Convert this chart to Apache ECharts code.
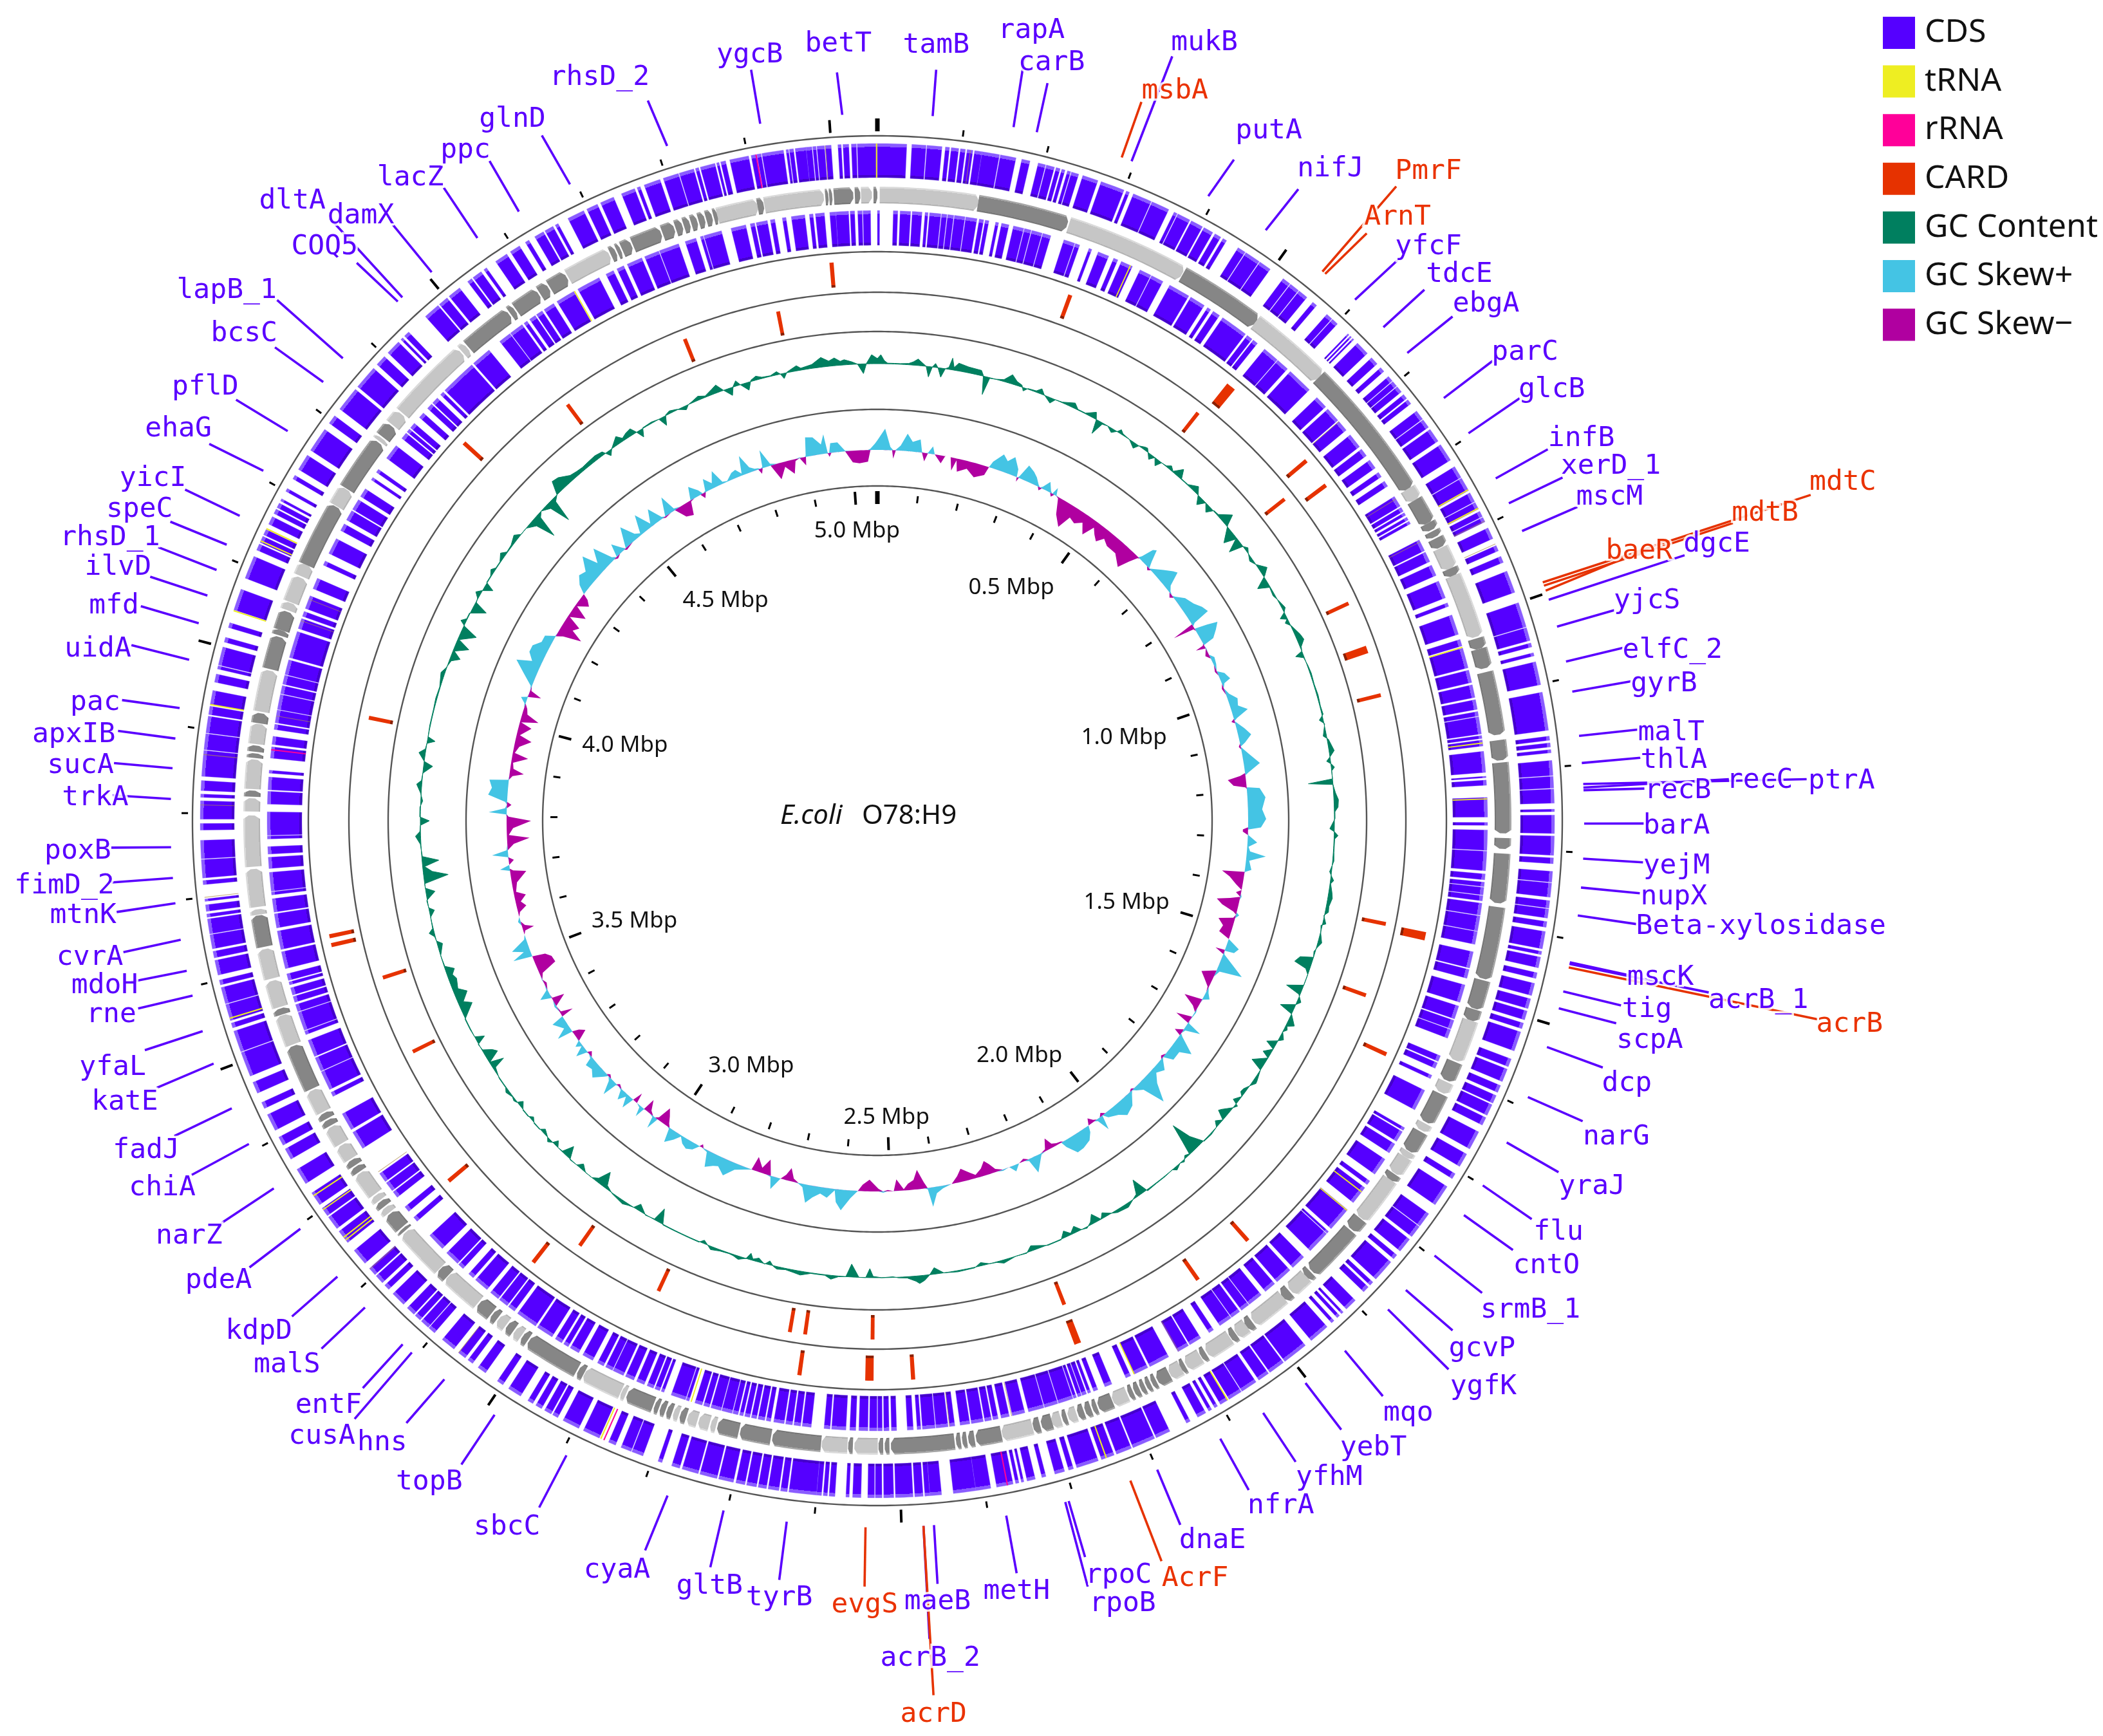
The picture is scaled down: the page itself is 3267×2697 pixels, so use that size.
<!DOCTYPE html>
<html><head><meta charset="utf-8">
<style>html,body{margin:0;padding:0;background:#fff}#c{width:3267px;height:2697px}</style>
<script src="https://cdn.jsdelivr.net/npm/echarts@6/dist/echarts.min.js"></script>
</head><body><div id="c"></div>
<script>
// ---------- values (genome positions in Mbp) ----------
const genomeMbp = 5.055;
const tickMbp = [0,.1,.2,.3,.4,.5,.6,.7,.8,.9,1,1.1,1.2,1.3,1.4,1.5,1.6,1.7,1.8,1.9,2,2.1,2.2,2.3,2.4,2.5,2.6,2.7,2.8,2.9,3,3.1,3.2,3.3,3.4,3.5,3.6,3.7,3.8,3.9,4,4.1,4.2,4.3,4.4,4.5,4.6,4.7,4.8,4.9,5];
const scaleLabels = ['5.0 Mbp','0.5 Mbp','1.0 Mbp','1.5 Mbp','2.0 Mbp','2.5 Mbp','3.0 Mbp','3.5 Mbp','4.0 Mbp','4.5 Mbp'];
const forwardCDS = [[0,.035],[.041,.058],[.059,.077],[.081,.086],[.088,.097],[.099,.105],[.107,.114],[.116,.125],[.125,.146],[.147,.166],[.173,.183],[.193,.202],[.203,.213],[.215,.22],[.222,.226],[.229,.233],[.234,.243],[.248,.267],[.271,.3],[.303,.307],[.312,.335],[.336,.358],[.365,.369],[.37,.386],[.388,.403],[.405,.417],[.42,.428],[.431,.436],[.452,.462],[.463,.482],[.483,.498],[.517,.527],[.528,.54],[.541,.553],[.562,.568],[.584,.592],[.593,.601],[.618,.62],[.622,.624],[.626,.628],[.634,.651],[.658,.668],[.674,.68],[.688,.695],[.696,.703],[.704,.712],[.716,.722],[.724,.73],[.741,.753],[.754,.765],[.768,.785],[.79,.812],[.821,.836],[.837,.854],[.857,.869],[.87,.879],[.882,.889],[.89,.896],[.904,.918],[.927,.934],[.941,.949],[.96,.987],[1,1.03],[1.031,1.047],[1.05,1.055],[1.062,1.066],[1.073,1.101],[1.11,1.156],[1.163,1.168],[1.171,1.176],[1.179,1.183],[1.192,1.21],[1.211,1.225],[1.226,1.243],[1.25,1.253],[1.257,1.279],[1.282,1.305],[1.308,1.315],[1.324,1.337],[1.338,1.355],[1.359,1.368],[1.369,1.38],[1.384,1.391],[1.396,1.417],[1.42,1.424],[1.427,1.44],[1.446,1.453],[1.459,1.474],[1.478,1.49],[1.493,1.504],[1.508,1.515],[1.519,1.543],[1.553,1.563],[1.566,1.582],[1.587,1.596],[1.6,1.61],[1.612,1.626],[1.629,1.639],[1.648,1.671],[1.678,1.695],[1.705,1.712],[1.723,1.749],[1.762,1.78],[1.781,1.796],[1.8,1.818],[1.824,1.83],[1.835,1.862],[1.867,1.872],[1.875,1.883],[1.897,1.912],[1.917,1.92],[1.923,1.927],[1.932,1.936],[1.943,1.968],[1.977,2.008],[2.01,2.03],[2.032,2.046],[2.05,2.07],[2.071,2.088],[2.09,2.1],[2.104,2.108],[2.112,2.116],[2.12,2.131],[2.141,2.146],[2.168,2.186],[2.188,2.216],[2.218,2.237],[2.24,2.256],[2.26,2.287],[2.291,2.297],[2.302,2.314],[2.325,2.33],[2.338,2.348],[2.352,2.355],[2.358,2.362],[2.365,2.385],[2.392,2.41],[2.41,2.437],[2.451,2.465],[2.465,2.471],[2.473,2.483],[2.485,2.506],[2.508,2.52],[2.522,2.53],[2.531,2.539],[2.547,2.557],[2.561,2.565],[2.578,2.585],[2.587,2.592],[2.594,2.6],[2.6,2.633],[2.635,2.643],[2.645,2.658],[2.66,2.67],[2.672,2.684],[2.686,2.697],[2.7,2.718],[2.72,2.741],[2.743,2.763],[2.766,2.776],[2.788,2.793],[2.812,2.826],[2.827,2.84],[2.847,2.856],[2.868,2.889],[2.895,2.916],[2.923,2.93],[2.932,2.941],[2.945,2.953],[2.957,2.964],[2.974,2.991],[2.999,3.007],[3.024,3.035],[3.043,3.05],[3.054,3.064],[3.071,3.089],[3.101,3.11],[3.111,3.122],[3.124,3.132],[3.134,3.145],[3.151,3.169],[3.176,3.183],[3.187,3.198],[3.2,3.21],[3.218,3.238],[3.25,3.267],[3.271,3.288],[3.29,3.301],[3.306,3.323],[3.336,3.356],[3.37,3.384],[3.389,3.4],[3.409,3.43],[3.438,3.446],[3.458,3.472],[3.48,3.51],[3.511,3.537],[3.541,3.547],[3.55,3.57],[3.571,3.591],[3.594,3.6],[3.606,3.624],[3.627,3.635],[3.638,3.655],[3.656,3.674],[3.676,3.68],[3.683,3.691],[3.695,3.698],[3.715,3.72],[3.723,3.745],[3.746,3.768],[3.78,3.788],[3.793,3.815],[3.819,3.823],[3.827,3.839],[3.844,3.875],[3.876,3.895],[3.896,3.916],[3.918,3.928],[3.93,3.947],[3.957,3.967],[3.973,3.977],[3.978,4],[4.006,4.012],[4.024,4.03],[4.046,4.072],[4.086,4.114],[4.122,4.13],[4.132,4.14],[4.142,4.149],[4.156,4.166],[4.17,4.176],[4.178,4.184],[4.187,4.19],[4.2,4.204],[4.217,4.222],[4.23,4.25],[4.257,4.287],[4.296,4.307],[4.317,4.347],[4.351,4.38],[4.386,4.399],[4.405,4.423],[4.427,4.43],[4.433,4.44],[4.467,4.487],[4.489,4.501],[4.504,4.52],[4.532,4.538],[4.54,4.552],[4.556,4.56],[4.573,4.589],[4.594,4.607],[4.615,4.62],[4.628,4.64],[4.642,4.653],[4.656,4.66],[4.673,4.694],[4.698,4.712],[4.716,4.733],[4.743,4.76],[4.763,4.767],[4.772,4.792],[4.796,4.815],[4.816,4.834],[4.836,4.84],[4.842,4.86],[4.862,4.865],[4.867,4.873],[4.878,4.901],[4.904,4.91],[4.911,4.916],[4.917,4.943],[4.946,4.949],[4.95,4.955],[4.957,4.97],[4.97,4.977],[4.978,4.982],[4.983,4.992],[4.993,5],[5.008,5.012],[5.014,5.021],[5.024,5.03],[5.031,5.055]];
const reverseCDS = [[0,.003],[.021,.027],[.03,.044],[.046,.059],[.063,.067],[.069,.084],[.085,.092],[.093,.101],[.102,.116],[.117,.132],[.135,.141],[.143,.148],[.157,.161],[.165,.175],[.181,.195],[.196,.205],[.206,.22],[.221,.232],[.25,.265],[.266,.272],[.285,.289],[.298,.313],[.32,.326],[.331,.347],[.358,.374],[.375,.392],[.402,.431],[.434,.455],[.46,.465],[.469,.479],[.484,.521],[.524,.532],[.534,.541],[.553,.575],[.576,.593],[.598,.633],[.647,.664],[.668,.688],[.69,.705],[.713,.733],[.737,.748],[.755,.768],[.775,.782],[.789,.797],[.813,.828],[.83,.836],[.838,.842],[.845,.849],[.851,.855],[.879,.895],[.897,.911],[.916,.931],[.939,.963],[.97,.975],[.987,1.014],[1.021,1.03],[1.033,1.06],[1.063,1.08],[1.083,1.1],[1.103,1.116],[1.119,1.125],[1.126,1.149],[1.151,1.155],[1.157,1.165],[1.172,1.2],[1.205,1.207],[1.21,1.217],[1.233,1.259],[1.266,1.27],[1.276,1.303],[1.304,1.33],[1.334,1.342],[1.345,1.351],[1.352,1.362],[1.363,1.37],[1.373,1.389],[1.39,1.41],[1.411,1.428],[1.438,1.46],[1.462,1.474],[1.483,1.507],[1.512,1.53],[1.532,1.544],[1.545,1.557],[1.582,1.59],[1.592,1.6],[1.61,1.615],[1.632,1.661],[1.688,1.692],[1.694,1.709],[1.713,1.727],[1.737,1.761],[1.772,1.778],[1.783,1.808],[1.82,1.853],[1.858,1.861],[1.862,1.893],[1.905,1.925],[1.93,1.953],[1.957,1.973],[1.98,2],[2.001,2.013],[2.016,2.029],[2.03,2.048],[2.058,2.065],[2.078,2.095],[2.097,2.113],[2.127,2.155],[2.158,2.178],[2.183,2.19],[2.21,2.22],[2.23,2.236],[2.24,2.244],[2.246,2.252],[2.253,2.258],[2.26,2.264],[2.265,2.285],[2.286,2.304],[2.305,2.326],[2.331,2.348],[2.352,2.363],[2.367,2.374],[2.376,2.385],[2.387,2.403],[2.405,2.418],[2.425,2.432],[2.434,2.45],[2.451,2.468],[2.47,2.475],[2.48,2.488],[2.502,2.509],[2.512,2.519],[2.521,2.527],[2.528,2.538],[2.54,2.552],[2.556,2.564],[2.569,2.588],[2.59,2.598],[2.615,2.627],[2.629,2.638],[2.64,2.649],[2.651,2.665],[2.669,2.675],[2.677,2.686],[2.688,2.695],[2.697,2.704],[2.706,2.711],[2.713,2.72],[2.721,2.735],[2.736,2.75],[2.752,2.76],[2.762,2.772],[2.78,2.784],[2.785,2.805],[2.815,2.819],[2.821,2.828],[2.83,2.839],[2.843,2.854],[2.858,2.87],[2.873,2.888],[2.889,2.899],[2.902,2.911],[2.918,2.933],[2.939,2.952],[2.955,2.962],[2.965,2.975],[2.98,3.003],[3.006,3.035],[3.04,3.05],[3.052,3.065],[3.067,3.08],[3.086,3.106],[3.11,3.118],[3.128,3.136],[3.138,3.158],[3.166,3.19],[3.215,3.222],[3.232,3.24],[3.256,3.265],[3.267,3.28],[3.282,3.295],[3.335,3.36],[3.364,3.388],[3.414,3.42],[3.424,3.45],[3.451,3.47],[3.472,3.495],[3.503,3.508],[3.509,3.534],[3.535,3.545],[3.548,3.556],[3.558,3.568],[3.572,3.576],[3.578,3.587],[3.594,3.617],[3.62,3.645],[3.649,3.668],[3.67,3.688],[3.693,3.697],[3.698,3.723],[3.728,3.743],[3.747,3.757],[3.767,3.771],[3.772,3.803],[3.813,3.83],[3.832,3.849],[3.854,3.858],[3.874,3.889],[3.892,3.903],[3.912,3.919],[3.921,3.938],[3.939,3.959],[3.96,3.971],[3.973,3.985],[3.986,4.006],[4.009,4.045],[4.049,4.063],[4.066,4.073],[4.077,4.095],[4.105,4.12],[4.139,4.145],[4.156,4.178],[4.19,4.2],[4.206,4.22],[4.222,4.237],[4.242,4.254],[4.268,4.272],[4.28,4.285],[4.303,4.324],[4.336,4.345],[4.347,4.352],[4.354,4.362],[4.372,4.38],[4.388,4.396],[4.398,4.407],[4.413,4.418],[4.421,4.47],[4.473,4.5],[4.518,4.535],[4.536,4.555],[4.558,4.563],[4.567,4.576],[4.578,4.587],[4.59,4.605],[4.61,4.636],[4.642,4.674],[4.684,4.695],[4.7,4.71],[4.715,4.736],[4.74,4.76],[4.761,4.788],[4.797,4.812],[4.818,4.822],[4.823,4.847],[4.86,4.88],[4.886,4.892],[4.894,4.909],[4.913,4.919],[4.929,4.934],[4.941,4.959],[4.965,4.97],[4.973,4.985],[4.992,5],[5,5.017],[5.019,5.025],[5.029,5.035],[5.036,5.046]];
const contigsLight = [[.003,.13],[.25,.409],[.522,.63],[.814,.831],[.901,.93],[.94,1.024],[1.525,1.58],[1.61,1.625],[1.67,1.68],[1.712,1.72],[1.72,1.745],[1.755,1.817],[1.92,1.947],[1.96,2.009],[2.02,2.036],[2.046,2.081],[2.091,2.112],[2.12,2.136],[2.197,2.217],[2.267,2.278],[2.288,2.3],[2.326,2.366],[2.527,2.557],[2.566,2.599],[2.737,2.744],[2.746,2.76],[2.762,2.775],[2.787,2.794],[2.86,2.866],[2.867,2.919],[3.014,3.024],[3.038,3.05],[3.084,3.135],[3.15,3.214],[3.247,3.255],[3.267,3.275],[3.277,3.31],[3.332,3.353],[3.355,3.38],[3.402,3.433],[3.497,3.537],[3.548,3.583],[3.586,3.625],[3.67,3.677],[3.68,3.729],[3.732,3.798],[3.803,3.82],[3.832,3.87],[3.89,3.916],[3.932,3.986],[4.067,4.077],[4.078,4.112],[4.114,4.13],[4.215,4.24],[4.315,4.32],[4.342,4.36],[4.362,4.47],[4.472,4.48],[4.639,4.699],[4.847,4.9],[4.909,4.986],[5.034,5.048]];
const contigsDark = [[.13,.248],[.41,.522],[.63,.814],[.831,.865],[.865,.875],[.877,.885],[.887,.9],[.93,.94],[1.026,1.04],[1.04,1.066],[1.071,1.153],[1.16,1.186],[1.189,1.28],[1.286,1.3],[1.306,1.37],[1.375,1.469],[1.471,1.509],[1.51,1.525],[1.582,1.608],[1.627,1.668],[1.682,1.711],[1.746,1.755],[1.818,1.836],[1.838,1.91],[1.912,1.92],[1.949,1.96],[2.011,2.02],[2.037,2.045],[2.083,2.09],[2.114,2.12],[2.137,2.154],[2.156,2.162],[2.164,2.17],[2.172,2.178],[2.18,2.187],[2.189,2.195],[2.218,2.237],[2.239,2.245],[2.247,2.255],[2.257,2.265],[2.28,2.286],[2.3,2.314],[2.316,2.325],[2.367,2.4],[2.402,2.41],[2.412,2.418],[2.42,2.426],[2.428,2.51],[2.512,2.518],[2.52,2.526],[2.559,2.565],[2.6,2.663],[2.665,2.705],[2.707,2.735],[2.777,2.785],[2.796,2.803],[2.805,2.812],[2.814,2.82],[2.822,2.858],[2.92,2.928],[2.93,3.002],[3.004,3.012],[3.026,3.036],[3.052,3.06],[3.062,3.082],[3.136,3.149],[3.216,3.22],[3.222,3.245],[3.257,3.265],[3.312,3.32],[3.322,3.33],[3.382,3.39],[3.392,3.4],[3.435,3.495],[3.538,3.546],[3.628,3.669],[3.822,3.83],[3.872,3.878],[3.88,3.888],[3.917,3.93],[3.988,4.031],[4.033,4.04],[4.04,4.065],[4.13,4.214],[4.241,4.313],[4.322,4.34],[4.482,4.549],[4.551,4.558],[4.56,4.595],[4.597,4.61],[4.612,4.637],[4.701,4.708],[4.71,4.715],[4.717,4.73],[4.732,4.771],[4.773,4.789],[4.791,4.8],[4.802,4.81],[4.812,4.82],[4.822,4.83],[4.832,4.84],[4.842,4.847],[4.9,4.908],[4.988,4.992],[4.993,4.997],[4.999,5.024],[5.026,5.033],[5.05,5.055]];
const tRNAForward = [5.054,.853,.878,2.09,2.25,2.866,3.319,3.299,3.258,3.254,3.553,3.93,4.045,4.15,4.134];
const tRNAReverse = [.344,1.032,1.161,1.235,1.79,1.821,2.178,2.777,4.637];
const tRNAForwardFaint = [.111,.895,.925,3.064,3.209,3.7,3.81,3.87,4.993];
const tRNAReverseFaint = [.69,.817,.882,2.112,2.349,2.432,3.298,3.93,4.06,4.09];
const rRNAForward = [4.91,2.862,2.372];
const rRNAReverse = [3.885];
const cardOuterTrack = [[4.986,4.992],[.28,.286],[.543,.557],[.699,.705],[.744,.75],[1.425,1.437],[1.607,1.613],[1.943,1.949],[2.034,2.04],[2.228,2.238],[2.533,2.545],[2.473,2.479],[2.637,2.643],[3.057,3.063],[3.226,3.232],[3.608,3.614],[3.621,3.627],[4.384,4.39]];
const cardInnerTrack = [[4.897,4.903],[4.746,4.752],[4.537,4.543],[.533,.539],[.723,.729],[.913,.919],[.987,.999],[1.064,1.07],[1.422,1.428],[1.537,1.543],[2.228,2.234],[2.532,2.538],[2.637,2.643],[2.661,2.667],[2.875,2.881],[3.016,3.022],[3.417,3.423],[3.541,3.547],[3.949,3.955]];
const gcContent = [[0,8],[.006,14],[.012,5],[.018,1],[.03,1],[.04,1],[.055,2],[.063,5],[.071,10],[.08,4],[.086,0],[.092,-16],[.097,0],[.102,6],[.107,0],[.114,-14],[.12,0],[.126,3],[.13,18],[.135,4],[.142,12],[.16,9],[.183,8],[.188,1],[.194,-28],[.2,-1],[.21,0],[.225,3],[.237,14],[.248,6],[.258,3],[.263,-5],[.27,1],[.285,2],[.293,8],[.3,1],[.315,-8],[.322,0],[.335,1],[.356,8],[.365,1],[.38,1],[.396,10],[.402,0],[.407,-22],[.415,-2],[.425,0],[.436,-6],[.445,1],[.449,6],[.455,2],[.47,0],[.484,-8],[.49,0],[.5,4],[.505,5],[.51,0],[.518,-8],[.525,0],[.534,-10],[.54,0],[.55,1],[.557,6],[.565,1],[.577,14],[.585,1],[.6,1],[.616,10],[.625,1],[.636,-12],[.645,0],[.657,-10],[.665,1],[.675,2],[.692,18],[.7,2],[.72,-20],[.728,-2],[.739,-22],[.746,0],[.753,5],[.76,1],[.774,-5],[.785,0],[.8,12],[.81,2],[.823,-18],[.832,-1],[.848,-3],[.86,1],[.876,5],[.883,0],[.89,-10],[.896,-1],[.901,-6],[.91,1],[.93,8],[.94,10],[.95,2],[.958,0],[.963,-12],[.97,-1],[.985,1],[1,2],[1.02,1],[1.04,2],[1.06,1],[1.075,2],[1.084,-6],[1.092,1],[1.113,-5],[1.12,2],[1.141,8],[1.15,1],[1.158,-6],[1.164,1],[1.17,5],[1.176,0],[1.19,0],[1.195,-38],[1.2,0],[1.215,3],[1.227,7],[1.24,6],[1.248,1],[1.26,1],[1.278,-7],[1.284,1],[1.29,6],[1.296,1],[1.32,1],[1.335,2],[1.354,-3],[1.362,1],[1.369,5],[1.375,1],[1.39,5],[1.4,7],[1.415,4],[1.425,5],[1.432,-1],[1.446,5],[1.45,-2],[1.465,1],[1.48,6],[1.49,1],[1.498,-2],[1.508,0],[1.514,-20],[1.525,-26],[1.531,-6],[1.54,0],[1.56,0],[1.571,-25],[1.578,-2],[1.59,6],[1.597,0],[1.608,-22],[1.615,0],[1.632,12],[1.638,2],[1.644,5],[1.65,0],[1.662,7],[1.668,0],[1.678,-15],[1.685,0],[1.697,-12],[1.703,0],[1.72,-20],[1.728,0],[1.747,5],[1.752,6],[1.76,1],[1.772,-5],[1.779,-6],[1.785,0],[1.798,-8],[1.803,4],[1.81,0],[1.825,-12],[1.83,-15],[1.838,0],[1.848,-8],[1.855,0],[1.871,2],[1.888,1],[1.9,-20],[1.908,-50],[1.916,-22],[1.922,-1],[1.93,-4],[1.938,3],[1.945,0],[1.957,5],[1.963,0],[1.98,1],[2,1],[2.02,2],[2.03,-25],[2.04,-4],[2.05,0],[2.064,6],[2.085,4],[2.095,0],[2.109,-8],[2.116,0],[2.127,-14],[2.135,-4],[2.145,2],[2.155,0],[2.165,-10],[2.175,-2],[2.185,-10],[2.195,1],[2.22,1],[2.249,-8],[2.26,1],[2.28,0],[2.303,5],[2.315,1],[2.328,0],[2.343,-5],[2.355,1],[2.385,2],[2.41,0],[2.426,-10],[2.436,1],[2.445,8],[2.454,12],[2.46,8],[2.475,2],[2.49,1],[2.5,-1],[2.52,0],[2.535,-2],[2.541,-14],[2.548,0],[2.56,0],[2.574,-20],[2.583,0],[2.596,1],[2.609,6],[2.62,1],[2.635,1],[2.645,1],[2.663,6],[2.675,4],[2.69,2],[2.705,4],[2.712,1],[2.72,-6],[2.728,1],[2.74,-6],[2.75,-2],[2.756,-10],[2.762,0],[2.775,5],[2.785,2],[2.793,1],[2.81,2],[2.826,5],[2.832,1],[2.842,-5],[2.85,1],[2.87,1],[2.9,1],[2.92,1],[2.931,-22],[2.938,-1],[2.955,1],[2.972,-10],[2.98,0],[2.99,2],[3,5],[3.012,3],[3.025,1],[3.04,-5],[3.05,-24],[3.06,-6],[3.07,0],[3.085,0],[3.097,-8],[3.105,0],[3.12,1],[3.131,-18],[3.14,-1],[3.15,0],[3.158,-8],[3.163,0],[3.17,5],[3.176,0],[3.189,-6],[3.196,1],[3.21,1],[3.219,-5],[3.226,1],[3.24,1],[3.252,-8],[3.258,1],[3.263,3],[3.27,1],[3.283,5],[3.29,1],[3.31,1],[3.33,-4],[3.336,-22],[3.343,-1],[3.353,-20],[3.36,-14],[3.368,-1],[3.38,1],[3.388,-14],[3.395,0],[3.41,1],[3.43,1],[3.452,-20],[3.46,-8],[3.475,-20],[3.485,-8],[3.503,-12],[3.512,-8],[3.521,-14],[3.53,-1],[3.55,0],[3.57,-8],[3.577,0],[3.585,1],[3.593,8],[3.6,1],[3.62,0],[3.631,-8],[3.637,0],[3.65,1],[3.664,-14],[3.672,0],[3.68,0],[3.691,-38],[3.7,-14],[3.71,-3],[3.719,-26],[3.728,-1],[3.75,1],[3.764,8],[3.772,1],[3.783,0],[3.791,-14],[3.798,1],[3.815,1],[3.826,-3],[3.84,1],[3.855,8],[3.862,1],[3.875,0],[3.889,-14],[3.896,0],[3.91,10],[3.918,1],[3.928,0],[3.934,-12],[3.94,0],[3.96,1],[3.99,1],[4.009,2],[4.03,1],[4.055,6],[4.065,1],[4.08,-3],[4.088,-15],[4.098,-2],[4.11,-22],[4.12,-2],[4.136,-25],[4.145,-2],[4.152,8],[4.159,1],[4.17,1],[4.184,-22],[4.192,-1],[4.2,1],[4.208,8],[4.215,1],[4.225,-14],[4.232,1],[4.245,1],[4.255,6],[4.262,1],[4.275,1],[4.288,8],[4.296,1],[4.31,2],[4.327,8],[4.336,0],[4.35,0],[4.365,-10],[4.373,-40],[4.381,-6],[4.39,0],[4.405,-8],[4.413,-40],[4.42,-6],[4.43,0],[4.44,20],[4.452,18],[4.47,8],[4.483,6],[4.495,5],[4.51,6],[4.525,7],[4.539,5],[4.548,-8],[4.556,0],[4.574,12],[4.582,4],[4.592,8],[4.602,10],[4.608,1],[4.615,-12],[4.622,1],[4.64,2],[4.654,0],[4.661,-14],[4.668,1],[4.677,4],[4.69,1],[4.705,-6],[4.712,0],[4.72,2],[4.733,6],[4.745,2],[4.76,8],[4.769,12],[4.778,1],[4.791,-12],[4.797,1],[4.804,8],[4.81,0],[4.822,-12],[4.83,2],[4.84,6],[4.85,2],[4.865,1],[4.877,5],[4.883,0],[4.888,-8],[4.895,1],[4.913,8],[4.92,3],[4.94,6],[4.957,15],[4.97,8],[4.98,12],[4.99,6],[4.997,8],[5.01,4],[5.02,0],[5.03,-15],[5.036,1],[5.045,14],[5.055,8]];
const gcSkew = [[0,15],[.016,33],[.028,5],[.032,2],[.035,-13],[.04,1],[.05,8],[.063,27],[.075,15],[.091,20],[.097,1],[.104,-13],[.11,1],[.119,12],[.125,0],[.141,-12],[.148,0],[.16,0],[.167,-20],[.174,-3],[.18,-20],[.2,-12],[.22,-22],[.241,-14],[.246,0],[.251,10],[.268,26],[.28,18],[.292,28],[.307,12],[.31,0],[.312,-7],[.315,3],[.325,24],[.34,18],[.35,12],[.36,3],[.365,-5],[.37,3],[.38,15],[.39,3],[.395,-5],[.4,12],[.405,1],[.411,-2],[.425,-25],[.444,-40],[.455,-18],[.47,-22],[.485,-14],[.5,-29],[.512,-10],[.522,-18],[.534,-25],[.545,-14],[.56,-20],[.585,-20],[.61,-33],[.62,-15],[.628,-2],[.632,5],[.639,24],[.645,28],[.655,10],[.662,-4],[.667,3],[.685,15],[.7,25],[.708,29],[.72,8],[.73,2],[.739,-5],[.745,3],[.76,14],[.78,20],[.795,28],[.809,32],[.815,5],[.82,-35],[.826,-2],[.832,20],[.838,36],[.85,28],[.863,18],[.867,-2],[.869,-15],[.875,1],[.89,-6],[.9,6],[.915,4],[.93,-3],[.94,10],[.955,15],[.96,4],[.97,-3],[.985,5],[1,15],[1.015,12],[1.028,25],[1.04,5],[1.045,-5],[1.05,3],[1.065,12],[1.081,20],[1.095,8],[1.102,-3],[1.108,3],[1.12,10],[1.143,25],[1.16,5],[1.165,-8],[1.171,-28],[1.185,-20],[1.191,-2],[1.195,20],[1.215,28],[1.24,22],[1.26,28],[1.278,20],[1.283,-8],[1.288,-8],[1.295,1],[1.31,15],[1.32,2],[1.33,5],[1.338,30],[1.35,5],[1.369,10],[1.375,1],[1.379,-35],[1.39,-22],[1.405,-10],[1.415,0],[1.422,-8],[1.43,2],[1.437,-15],[1.445,-35],[1.455,-25],[1.465,-5],[1.47,5],[1.478,-3],[1.487,-25],[1.5,-15],[1.515,-18],[1.525,0],[1.539,20],[1.55,15],[1.552,-15],[1.56,2],[1.59,40],[1.598,5],[1.613,-21],[1.625,-12],[1.638,-2],[1.65,4],[1.661,10],[1.668,1],[1.677,-28],[1.69,-8],[1.7,2],[1.712,1],[1.723,-24],[1.728,2],[1.734,25],[1.745,3],[1.755,-12],[1.76,5],[1.778,32],[1.79,15],[1.81,15],[1.82,-4],[1.826,4],[1.839,15],[1.855,8],[1.87,20],[1.888,47],[1.9,12],[1.912,5],[1.918,-3],[1.925,5],[1.94,18],[1.961,24],[1.975,15],[1.995,8],[2.003,-5],[2.01,23],[2.018,3],[2.025,-3],[2.033,-10],[2.04,0],[2.045,10],[2.056,20],[2.075,25],[2.09,26],[2.105,10],[2.11,-2],[2.12,-3],[2.13,-6],[2.138,-18],[2.148,-3],[2.16,2],[2.182,25],[2.19,3],[2.2,-4],[2.212,0],[2.224,10],[2.235,0],[2.25,2],[2.265,-5],[2.275,-15],[2.284,-22],[2.295,-12],[2.31,-5],[2.32,-10],[2.339,-20],[2.35,-10],[2.365,0],[2.385,4],[2.4,10],[2.412,30],[2.418,2],[2.425,-10],[2.437,-30],[2.447,-15],[2.46,-10],[2.47,-2],[2.485,-18],[2.492,0],[2.505,-2],[2.515,2],[2.525,-4],[2.545,-18],[2.56,-10],[2.57,0],[2.585,12],[2.603,32],[2.615,20],[2.62,2],[2.635,15],[2.65,10],[2.665,18],[2.678,28],[2.69,5],[2.7,1],[2.712,-5],[2.722,-20],[2.73,-8],[2.74,0],[2.755,20],[2.762,2],[2.773,-24],[2.785,-8],[2.8,-22],[2.806,0],[2.82,4],[2.84,10],[2.858,25],[2.875,15],[2.885,18],[2.9,25],[2.91,3],[2.92,1],[2.925,-5],[2.93,1],[2.94,10],[2.953,14],[2.965,10],[2.975,2],[2.985,12],[2.999,23],[3.006,2],[3.012,-5],[3.02,-15],[3.03,-25],[3.038,-4],[3.045,20],[3.05,2],[3.06,-5],[3.071,-20],[3.075,1],[3.079,17],[3.085,3],[3.095,0],[3.1,-16],[3.106,0],[3.112,20],[3.122,4],[3.131,16],[3.14,2],[3.15,-4],[3.155,2],[3.16,25],[3.172,5],[3.18,-4],[3.186,6],[3.201,20],[3.215,12],[3.23,15],[3.235,3],[3.245,-6],[3.25,2],[3.257,18],[3.267,2],[3.274,10],[3.28,1],[3.291,-18],[3.3,-10],[3.305,1],[3.309,25],[3.32,8],[3.34,20],[3.344,1],[3.347,-20],[3.355,-2],[3.37,3],[3.385,-20],[3.39,-1],[3.398,17],[3.41,2],[3.425,-4],[3.435,1],[3.448,-5],[3.46,-30],[3.475,-28],[3.485,-20],[3.49,0],[3.495,30],[3.505,10],[3.514,27],[3.53,3],[3.54,0],[3.548,-3],[3.552,-18],[3.56,-5],[3.57,4],[3.58,0],[3.59,-3],[3.601,-15],[3.612,-8],[3.625,-18],[3.635,-4],[3.655,-8],[3.677,-25],[3.682,-5],[3.687,15],[3.695,0],[3.705,-8],[3.712,1],[3.719,25],[3.727,2],[3.74,-10],[3.752,-35],[3.76,-3],[3.775,-10],[3.791,-38],[3.8,-3],[3.805,1],[3.809,28],[3.818,3],[3.826,-7],[3.832,3],[3.845,30],[3.86,25],[3.876,30],[3.88,1],[3.889,-5],[3.896,-22],[3.905,-5],[3.918,-3],[3.932,-25],[3.94,-3],[3.955,-8],[3.971,-25],[3.98,-5],[4,-20],[4.008,-2],[4.017,-28],[4.028,-8],[4.04,-5],[4.05,2],[4.06,10],[4.065,1],[4.072,-20],[4.08,-2],[4.09,2],[4.11,20],[4.129,38],[4.14,15],[4.155,25],[4.17,25],[4.185,15],[4.2,15],[4.21,1],[4.218,-10],[4.229,-38],[4.24,-18],[4.252,-25],[4.262,-3],[4.278,-25],[4.29,-3],[4.305,-18],[4.315,-10],[4.32,0],[4.33,14],[4.345,24],[4.36,20],[4.379,39],[4.39,15],[4.406,35],[4.42,5],[4.428,-3],[4.438,20],[4.45,5],[4.455,-3],[4.476,30],[4.49,8],[4.5,3],[4.515,30],[4.53,5],[4.544,25],[4.558,3],[4.565,-2],[4.581,28],[4.59,3],[4.604,-18],[4.62,-22],[4.63,-2],[4.64,20],[4.655,8],[4.661,-8],[4.668,2],[4.675,20],[4.688,8],[4.699,25],[4.71,3],[4.72,1],[4.735,10],[4.745,12],[4.755,3],[4.763,30],[4.775,8],[4.785,3],[4.792,2],[4.797,-8],[4.802,2],[4.807,28],[4.82,3],[4.835,-25],[4.85,-8],[4.867,-22],[4.875,-3],[4.885,1],[4.896,-13],[4.899,2],[4.905,30],[4.92,28],[4.935,15],[4.943,30],[4.947,1],[4.95,-6],[4.955,15],[4.97,15],[4.985,1],[5,-18],[5.015,-20],[5.034,-18],[5.04,2],[5.05,10],[5.055,15]];
const cdsGenes = [['betT',5.015],['tamB',.063],['rapA',.156],['carB',.183],['mukB',.296],['putA',.392],['nifJ',.468],['yfcF',.597],['tdcE',.642],['ebgA',.682],['parC',.748],['glcB',.797],['infB',.857],['xerD_1',.889],['mscM',.924],['dgcE',1.008],['yjcS',1.04],['elfC_2',1.081],['gyrB',1.116],['malT',1.167],['thlA',1.198],['ptrA',1.222],['recC',1.226],['recB',1.229],['barA',1.267],['yejM',1.307],['nupX',1.34],['Beta-xylosidase',1.372],['mscK',1.426],['acrB_1',1.428],['tig',1.46],['scpA',1.48],['dcp',1.526],['narG',1.587],['yraJ',1.644],['flu',1.7],['cntO',1.74],['srmB_1',1.797],['gcvP',1.848],['ygfK',1.878],['mqo',1.946],['yebT',2.004],['yfhM',2.063],['nfrA',2.12],['dnaE',2.2],['rpoC',2.307],['rpoB',2.311],['metH',2.38],['maeB',2.463],['acrB_2',2.475],['tyrB',2.631],['gltB',2.704],['cyaA',2.77],['sbcC',2.894],['topB',2.988],['hns',3.058],['cusA',3.106],['entF',3.12],['malS',3.18],['kdpD',3.227],['pdeA',3.296],['narZ',3.351],['chiA',3.409],['fadJ',3.454],['katE',3.509],['yfaL',3.548],['rne',3.59],['mdoH',3.619],['cvrA',3.655],['mtnK',3.697],['fimD_2',3.726],['poxB',3.761],['trkA',3.816],['sucA',3.851],['apxIB',3.885],['pac',3.92],['uidA',3.976],['mfd',4.019],['ilvD',4.052],['rhsD_1',4.083],['speC',4.114],['yicI',4.15],['ehaG',4.208],['pflD',4.261],['bcsC',4.33],['lapB_1',4.365],['COQ5',4.455],['dltA',4.462],['damX',4.506],['lacZ',4.571],['ppc',4.627],['glnD',4.693],['rhsD_2',4.812],['ygcB',4.921]];
const cardGenes = [['msbA',.284],['PmrF',.548],['ArnT',.552],['mdtC',.987],['mdtB',.991],['baeR',.997],['acrB',1.432],['AcrF',2.233],['acrD',2.475],['evgS',2.541]];

// ---------- layout only: text centre and leader end, read at the 1568 px wide view ----------
const viewScale = 2.0836;
const labelLayout = {betT:[625,33,624,54],tamB:[698,34,698,52],rapA:[769,23,764,42],carB:[784,47,781,62],mukB:[898,32,874,42],msbA:[876,68,851,76],putA:[946,98,920,119],nifJ:[992,126,968,141],PmrF:[1065,128,1041,139],ArnT:[1042,162,1019,174],yfcF:[1065,184,1042,194],tdcE:[1088,205,1062,216],ebgA:[1108,227,1083,236],parC:[1137,263,1113,269],glcB:[1157,291,1133,297],infB:[1179,327,1154,335],xerD_1:[1201,348,1165,356],mscM:[1200,371,1176,378],mdtC:[1374,360,1350,369],mdtB:[1316,383,1292,390],baeR:[1222,411,1243,403],dgcE:[1280,406,1256,414],yjcS:[1228,448,1203.5,455],elfC_2:[1247,485,1210,483],gyrB:[1240.6,510,1216,508],malT:[1246,546.5,1221,544],thlA:[1248,567,1223,565],recB:[1251,590,1226,588],recC:[1312,582,1289,581],ptrA:[1373,582.5,1347,581],barA:[1250,616,1226,614],yejM:[1250,646,1225,643],nupX:[1248,669,1222.6,666],'Beta-xylosidase':[1313,691,1220,689],mscK:[1238,729,1214,727],acrB_1:[1311,746,1274,740],acrB:[1379,764,1355,760],tig:[1228,753,1208.6,749.7],scpA:[1230,776,1205,763],dcp:[1213,808,1195,796],narG:[1205,848,1180,836],yraJ:[1187,885,1162,874],flu:[1162,919,1142,909],cntO:[1153,944,1128,932],srmB_1:[1141,977,1105,964],gcvP:[1105,1006,1083,992],ygfK:[1106,1034,1080,1021],mqo:[1050,1054,1031,1041],yebT:[1024,1080,1000,1066],yfhM:[991,1102,966,1090],nfrA:[955,1123,931,1111],dnaE:[904,1149,880,1137],AcrF:[891,1177,866,1164],rpoC:[834,1175,809,1161],rpoB:[837,1196,811,1183],metH:[758,1186.6,758,1173],maeB:[699,1194.6,699,1181],acrB_2:[693.6,1236.6,693,1222],acrD:[696,1278.6,696,1264],evgS:[644.7,1197,644.6,1183],tyrB:[581,1191.7,581,1178],gltB:[529,1183,529.6,1168.6],cyaA:[460,1171,481,1156],sbcC:[378,1139,402,1124],topB:[320,1105,344,1092],hns:[285,1076,303,1061],cusA:[240,1071,264.4,1058],entF:[245,1048,270.5,1035],malS:[214,1018,239.7,1005.6],kdpD:[193,993,217.7,981.6],pdeA:[163,955,186,945],narZ:[141,922,165,912],chiA:[121,886,143,876],fadJ:[109,858,130,847],katE:[93,822,117,811],yfaL:[84,796,108,783],rne:[83,757,103,752],mdoH:[78,735,98,732],cvrA:[67,714,92,710],mtnK:[62,683,87,680],fimD_2:[48,661,83,658],poxB:[58,635,83,632],trkA:[71,595,84,593],sucA:[60,571,85,569],apxIB:[55,548,88,545],pac:[71,524,91,522],uidA:[73,484,98,481],mfd:[85,452,105,452],ilvD:[88,423,112,430],rhsD_1:[82,401,118,408],speC:[104,380,127,389],yicI:[114,357,138,365],ehaG:[133,320,156,331],pflD:[153,289,176,298],bcsC:[182,249,205,259],lapB_1:[169,217,206.6,223.7],COQ5:[242,184,266,196],dltA:[218,150,248,165],damX:[269,161,293,167.7],lacZ:[306,133,330.9,140],ppc:[347,112,365,120],glnD:[382,89,404,101],rhsD_2:[447,58,483,75],ygcB:[559,41,560,52]};
const scaleLabelLayout = [[639,396],[754,438],[838,550],[840,673],[760,787],[661,833],[560,795],[473,687],[466,556],[541,448]];

// ---------- drawing ----------
const center = [1363,1275];
const R = {circles:[1064,884,821,760,639,520],fwd:[999,1052],contig:[959,985],rev:[894,948],
  cardOuter:[831,870],cardInner:[768,806],gc:710,skew:576,leader:1098};
const col = {cds:'#5500ff',trna:'#eeee22',rrna:'#ff0099',card:'#e63200',gc:'#007f5f',plus:'#44c4e4',minus:'#b000a0',label:'#5a00ff',cardLabel:'#ea3200'};
const chart = echarts.init(document.getElementById('c'));

function arc(api,r,a,b){ const n=Math.max(1,Math.ceil(Math.abs(b-a)/.006)),p=[];
  for(let i=0;i<=n;i++) p.push(api.coord([r,a+(b-a)*i/n])); return p; }
function band(api,r0,r1,a,b){ return arc(api,r1,a,b).concat(arc(api,r0,b,a)); }
function radial(api,rOuter,stops){ const c=api.coord([0,0]);
  return new echarts.graphic.RadialGradient(c[0],c[1],rOuter,stops,true); }
function shaded(api,r0,r1,outerC,midC,innerC){ const h=r1-r0,s=v=>v/r1;
  return radial(api,r1,[{offset:0,color:innerC},{offset:s(r0+h*.08),color:innerC},{offset:s(r0+h*.08),color:midC},
    {offset:s(r1-h*.1),color:midC},{offset:s(r1-h*.1),color:outerC},{offset:1,color:outerC}]); }
function custom(name,data,renderItem,color){ return {type:'custom',name,coordinateSystem:'polar',polarIndex:0,data,renderItem,
  silent:true,animation:false,itemStyle:color?{color}:undefined,progressive:0}; }

const cdsData = forwardCDS.map(d=>[d[0],d[1],0]).concat(reverseCDS.map(d=>[d[0],d[1],1]));
const trackOf = s => s===0 ? R.fwd : R.rev;
const marks = (list,s,faint)=>list.map(p=>[p,s,faint?1:0]);
const tRNAData = [].concat(marks(tRNAForward,0),marks(tRNAReverse,1),marks(tRNAForwardFaint,0,1),marks(tRNAReverseFaint,1,1));
const rRNAData = [].concat(marks(rRNAForward,0),marks(rRNAReverse,1));
const cardData = cardOuterTrack.map(d=>[d[0],d[1],0]).concat(cardInnerTrack.map(d=>[d[0],d[1],1]));
const contigData = contigsLight.map(d=>[d[0],d[1],0]).concat(contigsDark.map(d=>[d[0],d[1],1]));

function featureSeries(name,data,color,faintColor){
  return custom(name,data,(p,api)=>{ const d=data[p.dataIndex],t=trackOf(d[1]),w=d[2]?.00045:.0008;
    return {type:'polygon',shape:{points:band(api,t[0],t[1],d[0]-w,d[0]+w)},style:{fill:d[2]?faintColor:color,opacity:d[2]?.7:1}}; },color);
}
function areaPolygon(api,pts,base,f){ const a=pts.map(d=>api.coord([base+f(d[1]),d[0]]));
  return a.concat(arc(api,base,pts[pts.length-1][0],pts[0][0])); }

const series = [
 custom('rings',R.circles,(p,api)=>({type:'polyline',shape:{points:arc(api,R.circles[p.dataIndex],0,genomeMbp)},style:{stroke:'#555',lineWidth:2.4,fill:null}})),
 custom('contigs',contigData,(p,api)=>{ const d=contigData[p.dataIndex],h=Math.min(.0045,(d[1]-d[0])*.4),[r0,r1]=R.contig,m=(r1-r0)*.18,c=(r0+r1)/2;
   const pts=arc(api,r1,d[0],d[1]-h).concat([api.coord([c+m,d[1]]),api.coord([c-m,d[1]])],arc(api,r0,d[1]-h,d[0]));
   const fill=d[2]?shaded(api,r0,r1,'#a6a6a6','#868686','#777777'):shaded(api,r0,r1,'#dadada','#c6c6c6','#b4b4b4');
   return {type:'polygon',shape:{points:pts},style:{fill}}; }),
 custom('CDS',cdsData,(p,api)=>{ const d=cdsData[p.dataIndex],t=trackOf(d[2]);
   return {type:'polygon',shape:{points:band(api,t[0],t[1],d[0],d[1])},
     style:{fill:shaded(api,t[0],t[1],'#8a5cff',col.cds,'#4400cc'),stroke:'rgba(135,95,255,.35)',lineWidth:1}}; },col.cds),
 featureSeries('tRNA',tRNAData,col.trna,'#b08f50'),
 featureSeries('rRNA',rRNAData,col.rrna,'#ff0099'),
 custom('CARD',cardData,(p,api)=>{ const d=cardData[p.dataIndex],t=d[2]?R.cardInner:R.cardOuter;
   return {type:'polygon',shape:{points:band(api,t[0],t[1],d[0],d[1])},
     style:{fill:radial(api,t[1],[{offset:0,color:'#8a2000'},{offset:(t[0]+4)/t[1],color:'#8a2000'},{offset:(t[0]+4)/t[1],color:col.card},{offset:1,color:col.card}])}}; },col.card),
 custom('GC Content',gcContent,(p,api)=>p.dataIndex?null:({type:'polygon',shape:{points:areaPolygon(api,gcContent,R.gc,v=>v)},style:{fill:col.gc,stroke:col.gc,lineWidth:1}}),col.gc),
 custom('GC Skew+',gcSkew,(p,api)=>p.dataIndex?null:({type:'polygon',shape:{points:areaPolygon(api,gcSkew,R.skew,v=>Math.max(v,0))},style:{fill:col.plus}}),col.plus),
 custom('GC Skew\u2212',gcSkew,(p,api)=>p.dataIndex?null:({type:'polygon',shape:{points:areaPolygon(api,gcSkew,R.skew,v=>Math.min(v,0))},style:{fill:col.minus}}),col.minus),
 custom('ticks',tickMbp,(p,api)=>{ const v=tickMbp[p.dataIndex],i=Math.round(v*10),major=i%5===0,zero=i===0;
   const lw=zero?7:major?4:3;
   return {type:'group',children:[
     {type:'polyline',shape:{points:[api.coord([1071,v]),api.coord([major?1091:1081,v])]},style:{stroke:'#000',lineWidth:lw,fill:null}},
     {type:'polyline',shape:{points:[api.coord([major?512:508,v]),api.coord([major?492:497,v])]},style:{stroke:'#000',lineWidth:lw,fill:null}}]}; }),
];
function leaderSeries(name,list,color){ return custom(name,list,(p,api)=>{ const g=list[p.dataIndex],l=labelLayout[g[0]];
   return {type:'polyline',shape:{points:[api.coord([R.leader,g[1]]),[l[2]*viewScale,l[3]*viewScale]]},style:{stroke:color,lineWidth:3.6,fill:null}}; }); }
function labelSeries(name,list,color){ return custom(name,list,(p,api)=>{ const g=list[p.dataIndex],l=labelLayout[g[0]];
   return {type:'text',style:{text:g[0],x:l[0]*viewScale,y:l[1]*viewScale,fill:color,font:'43px "DejaVu Sans Mono"',align:'center',verticalAlign:'middle',stroke:'rgba(255,255,255,.85)',lineWidth:7}}; }); }
series.push(leaderSeries('cdsLeaders',cdsGenes,col.label),leaderSeries('cardLeaders',cardGenes,col.card),
  labelSeries('cdsLabels',cdsGenes,col.label),labelSeries('cardLabels',cardGenes,col.cardLabel));
series.push(custom('scale',scaleLabels,(p,api)=>{ const l=scaleLabelLayout[p.dataIndex];
   return {type:'text',style:{text:scaleLabels[p.dataIndex],x:l[0]*viewScale,y:l[1]*viewScale,fill:'#111',font:'35px "Noto Sans"',align:'center',verticalAlign:'middle'}}; }));

chart.setOption({
  animation:false,backgroundColor:'#fff',
  polar:{center,radius:1400},
  angleAxis:{type:'value',min:0,max:genomeMbp,startAngle:90,clockwise:true,show:false},
  radiusAxis:{type:'value',min:0,max:1400,show:false},
  legend:{data:['CDS','tRNA','rRNA','CARD','GC Content','GC Skew+','GC Skew\u2212'],orient:'vertical',left:2920,top:21,itemWidth:50,itemHeight:50,itemGap:25.6,
    icon:'rect',selectedMode:false,align:'left',textStyle:{fontFamily:'Noto Sans',fontSize:50,color:'#111',padding:[0,0,0,10]}},
  graphic:[
    {type:'text',left:1212,top:1247,style:{text:'E.coli',font:'italic 42px "Noto Sans"',fill:'#111'}},
    {type:'text',left:1339,top:1247,style:{text:'O78:H9',font:'42px "Noto Sans"',fill:'#111'}}],
  series
});
</script></body></html>
